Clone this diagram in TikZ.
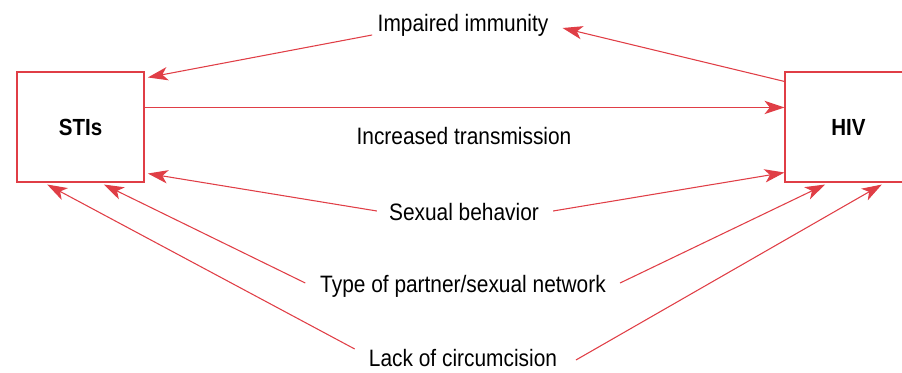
\documentclass[tikz,border=0pt]{standalone}
\usepackage{fontspec}
\setmainfont{Liberation Sans}[FakeStretch=0.88]
\usetikzlibrary{arrows.meta}
\definecolor{linkred}{RGB}{224,62,70}
\tikzstyle{box} = [rectangle, minimum width=95.25pt, minimum height=82.5pt, draw=linkred, line width=0.8pt, font=\bfseries\fontsize{17.5}{20}\selectfont]
\tikzstyle{factor} = [inner sep=0pt, font=\fontsize{17.8}{20}\selectfont]
\tikzstyle{arrow} = [draw=linkred, line width=0.8pt, -{Stealth[length=15pt, width=10pt, inset=4pt]}]

\begin{document}
\begin{tikzpicture}[x=0.75pt, y=-0.75pt]
    \useasboundingbox (0,0) rectangle (902,373);
    \clip (0,0) rectangle (902,373);
    \node (stis) [box] at (80.5,127) {STIs};
    \node (hiv) [box] at (848.5,127) {HIV};
    \node (immunity) [factor] at (463,25) {Impaired immunity};
    \node (transmission) [factor] at (464,136) {Increased transmission};
    \node (behavior) [factor] at (464,212) {Sexual behavior};
    \node (partner) [factor] at (463,286) {Type of partner/sexual network};
    \node (circumcision) [factor] at (463,358) {Lack of circumcision};

    \draw [arrow] ([xshift=-4, yshift=-7.5]immunity.west) -- ([xshift=2.5, yshift=-4.5]stis.north east);
    \draw [arrow] ([yshift=-7.5]hiv.north west) -- ([xshift=10.5, yshift=-2.25]immunity.east);
    \draw [arrow] ([yshift=-27]stis.north east) -- ([yshift=-27]hiv.north west);
    \draw [arrow] ([xshift=-9, yshift=0.75]behavior.west) -- ([xshift=2.5, yshift=6.75]stis.south east);
    \draw [arrow] ([xshift=10.5, yshift=0.75]behavior.east) -- ([yshift=7.5]hiv.south west);
    \draw [arrow] ([xshift=-11, yshift=2.25]partner.west) -- ([xshift=17.5, yshift=-1.5]stis.south);
    \draw [arrow] ([xshift=10.5, yshift=2.25]partner.east) -- ([xshift=-17.5, yshift=-1.5]hiv.south);
    \draw [arrow] ([xshift=-10.5, yshift=6.75]circumcision.west) -- ([xshift=-25, yshift=-1.5]stis.south);
    \draw [arrow] ([xshift=14, yshift=-1.5]circumcision.east) -- ([xshift=25, yshift=-1.5]hiv.south);
\end{tikzpicture}
\end{document}
